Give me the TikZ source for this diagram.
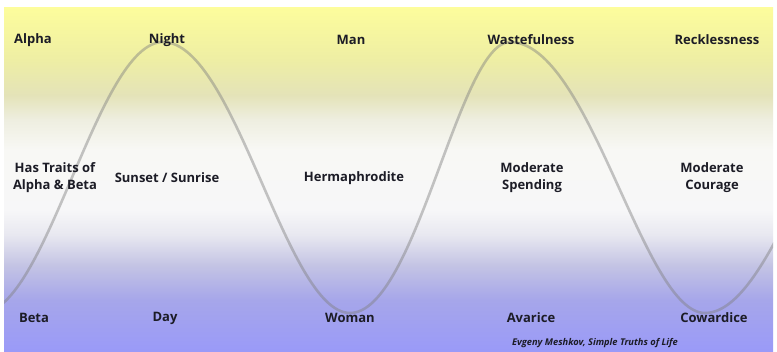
\documentclass[tikz,border=0pt]{standalone}
\usepackage{fontspec}
\setmainfont{Open Sans}
\usetikzlibrary{positioning}

\definecolor{bandA}{HTML}{9A9AF8}
\definecolor{bandB}{HTML}{A6A6EA}
\definecolor{bandC}{HTML}{C4C4E4}
\definecolor{bandD}{HTML}{E8E8F0}
\definecolor{bandE}{HTML}{F7F7F8}
\definecolor{bandF}{HTML}{F8F8F5}
\definecolor{bandG}{HTML}{EEEEE0}
\definecolor{bandH}{HTML}{E4E3B8}
\definecolor{bandI}{HTML}{EEEEA4}
\definecolor{bandJ}{HTML}{FDFD9C}
\definecolor{inkdark}{HTML}{1C1C26}

\pgfdeclareverticalshading{skyband}{100bp}{color(0bp)=(bandA); color(25bp)=(bandA);
  color(32.4bp)=(bandB); color(37.5bp)=(bandC); color(41.9bp)=(bandD);
  color(45.5bp)=(bandE); color(54.2bp)=(bandF); color(58.6bp)=(bandG);
  color(62.2bp)=(bandH); color(67.3bp)=(bandI); color(75bp)=(bandJ); color(100bp)=(bandJ)}

\tikzset{
  lbl/.style={font=\bfseries\fontsize{13}{17}\selectfont, text=inkdark, align=center, inner sep=1pt},
  credit/.style={font=\bfseries\itshape\fontsize{9.3}{11}\selectfont, text=inkdark, inner sep=1pt},
  wave/.style={draw=gray, opacity=0.45, line width=2.6pt}
}

\begin{document}
\begin{tikzpicture}[x=1pt,y=-1pt]
\useasboundingbox[fill=white] (0,0) rectangle (777,351);
\shade[shading=skyband] (4,7) rectangle (773,351);

% the wave
\begin{scope}
\clip (4,7) rectangle (773,351);
\draw[wave] (-19,313) .. controls (47,313) and (97,42) .. (163,42)
  .. controls (235,42) and (286,313) .. (350,313)
  .. controls (416,313) and (459,42) .. (510,42)
  .. controls (590,42) and (643,313) .. (705,313)
  .. controls (779,313) and (835,42) .. (909,42);
\end{scope}

% top row
\foreach \name/\x/\txt in {alpha/33/Alpha, night/167/Night, man/351/Man,
  waste/531/Wastefulness, reckless/717/Recklessness}
  \node[lbl] (\name) at (\x,40) {\txt};
% middle row
\foreach \name/\x/\txt in {mixed/55/{Has Traits of\\Alpha \& Beta},
  dusk/167/{Sunset / Sunrise}, herm/354/Hermaphrodite,
  spend/532/{Moderate\\Spending}, courage/712/{Moderate\\Courage}}
  \node[lbl] (\name) at (\x,178) {\txt};
% bottom row
\foreach \name/\x/\txt in {beta/34/Beta, day/165/Day, woman/350/Woman,
  avarice/531/Avarice, coward/714/Cowardice}
  \node[lbl] (\name) at (\x,318) {\txt};

\node[credit] (source) at (595,343) {Evgeny Meshkov, Simple Truths of Life};
\end{tikzpicture}
\end{document}
